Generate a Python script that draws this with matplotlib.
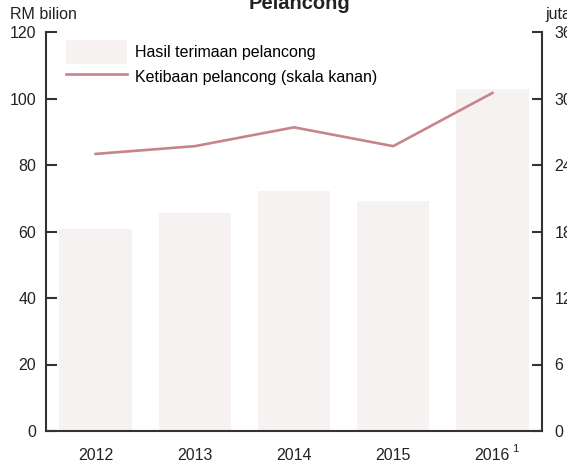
import matplotlib.pyplot as plt
from matplotlib.patches import Patch
from matplotlib.lines import Line2D

# data
years = ['2012', '2013', '2014', '2015', '2016']
hasil = [60.7, 65.6, 72.1, 69.2, 102.9]        # RM bilion (kiri)
ketibaan = [25.0, 25.7, 27.4, 25.7, 30.5]      # juta (kanan)
left_ticks = [0, 20, 40, 60, 80, 100, 120]
right_ticks = [0, 6, 12, 18, 24, 30, 36]

plt.rcParams['font.family'] = ['Liberation Sans', 'DejaVu Sans']

bar_color = '#f7f2f2'
line_color = '#c8848c'
dark = '#333333'
txt = '#222222'
fs = 11.5

fig = plt.figure(figsize=(5.67, 4.70), dpi=100)
ax = fig.add_axes([46/567, 1-431/470, 496/567, 399/470])
ax2 = ax.twinx()

x = list(range(len(years)))
ax.bar(x, hasil, width=0.73, color=bar_color, zorder=1)
ax2.plot(x, ketibaan, color=line_color, lw=1.9, zorder=3)

ax.set_xlim(-0.5, 4.5)
ax.set_ylim(0, 120)
ax2.set_ylim(0, 36)
ax.set_yticks(left_ticks)
ax2.set_yticks(right_ticks)
ax.set_xticks(x)
ax.set_xticklabels(years)

for a in (ax, ax2):
    a.spines['top'].set_visible(False)
    for s in a.spines.values():
        s.set_color(dark)
        s.set_linewidth(1.5)
ax.spines['right'].set_visible(False)
ax2.spines['left'].set_visible(False)
ax2.spines['bottom'].set_visible(False)

ax.tick_params(axis='y', direction='in', length=8, width=1.5, color=dark,
               labelsize=fs, pad=7, labelcolor=txt)
ax2.tick_params(axis='y', direction='in', length=7.5, width=1.5, color=dark,
                labelsize=fs, pad=9, labelcolor=txt)
ax.tick_params(axis='x', length=0, labelsize=fs, pad=12, labelcolor=txt)

# superscript on 2016
ax.annotate('1', xy=(4, 0), xytext=(14, -13), textcoords='offset points',
            fontsize=8, color=txt, ha='left', va='center',
            annotation_clip=False)

handles = [Patch(facecolor=bar_color, edgecolor='none'),
           Line2D([], [], color=line_color, lw=1.9)]
labels = ['Hasil terimaan pelancong', 'Ketibaan pelancong (skala kanan)']
ax2.legend(handles, labels, loc='upper left', bbox_to_anchor=(0.04, 0.98),
           frameon=False, fontsize=fs, handlelength=3.8, handleheight=1.95,
           handletextpad=0.5, labelspacing=0.05, borderpad=0, borderaxespad=0)

fig.text(10/567, 1-14.5/470, 'RM bilion', fontsize=fs, ha='left', va='center', color=txt)
fig.text(545/567, 1-14.5/470, 'juta', fontsize=fs, ha='left', va='center', color=txt)
fig.text(299/567, 1-9/470, 'Pelancong', fontsize=14.5, fontweight='bold',
         ha='center', va='baseline', color=txt)

fig.savefig('out.png', dpi=100)
